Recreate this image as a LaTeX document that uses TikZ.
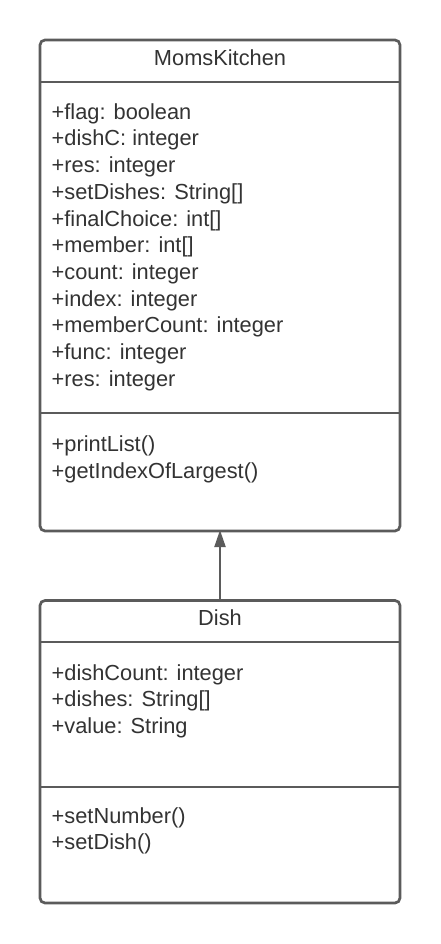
\documentclass[tikz,border=0pt]{standalone}
\usepackage{fontspec}
\setmainfont{Liberation Sans}
\usetikzlibrary{arrows.meta}
\definecolor{edge}{HTML}{5B5B5B}
\definecolor{ink}{HTML}{333333}
\begin{document}
\begin{tikzpicture}[x=1pt,y=-1pt,
  classbox/.style={draw=edge,line width=2.7pt,rounded corners=5pt,minimum width=360pt,anchor=north west,inner sep=0pt,outer sep=0pt},
  divider/.style={draw=edge,line width=2.7pt},
  txt/.style={anchor=base west,inner sep=0pt,text=ink,font=\fontsize{21.8}{26.7}\selectfont},
  ttl/.style={anchor=base,inner sep=0pt,text=ink,font=\fontsize{21.8}{26.7}\selectfont},
  inherit/.style={draw=edge,line width=2pt,-{Triangle[length=17pt,width=11pt]}}]
\useasboundingbox[fill=white] (0,0) rectangle (440,944);
% MomsKitchen
\node[classbox,minimum height=491pt] (mk) at (40,40) {};
\draw[divider] (mk.west |- 0,82) -- (mk.east |- 0,82);
\draw[divider] (mk.west |- 0,413) -- (mk.east |- 0,413);
\node[ttl] (mkt) at (220,66) {MomsKitchen};
\foreach \t [count=\i] in {+flag: boolean,+dishC: integer,+res: integer,+setDishes: String[],+finalChoice: int[],+member: int[],+count: integer,+index: integer,+memberCount: integer,+func: integer,+res: integer}
  \node[txt] (mka\i) at (51.5,{119.3+26.7*(\i-1)}) {\t};
\foreach \t [count=\i] in {+printList(),+getIndexOfLargest()}
  \node[txt] (mkm\i) at (51.5,{451.7+26.7*(\i-1)}) {\t};
% Dish
\node[classbox,minimum height=302.5pt] (dish) at (40,600.5) {};
\draw[divider] (dish.west |- 0,642) -- (dish.east |- 0,642);
\draw[divider] (dish.west |- 0,787) -- (dish.east |- 0,787);
\node[ttl] (disht) at (220,625) {Dish};
\foreach \t [count=\i] in {+dishCount: integer,+dishes: String[],+value: String}
  \node[txt] (da\i) at (51.5,{680+26.7*(\i-1)}) {\t};
\foreach \t [count=\i] in {+setNumber(),+setDish()}
  \node[txt] (dm\i) at (51.5,{823+26.7*(\i-1)}) {\t};
% inheritance
\draw[inherit,shorten >=-1pt] (dish.north) -- (mk.south);
\end{tikzpicture}
\end{document}
